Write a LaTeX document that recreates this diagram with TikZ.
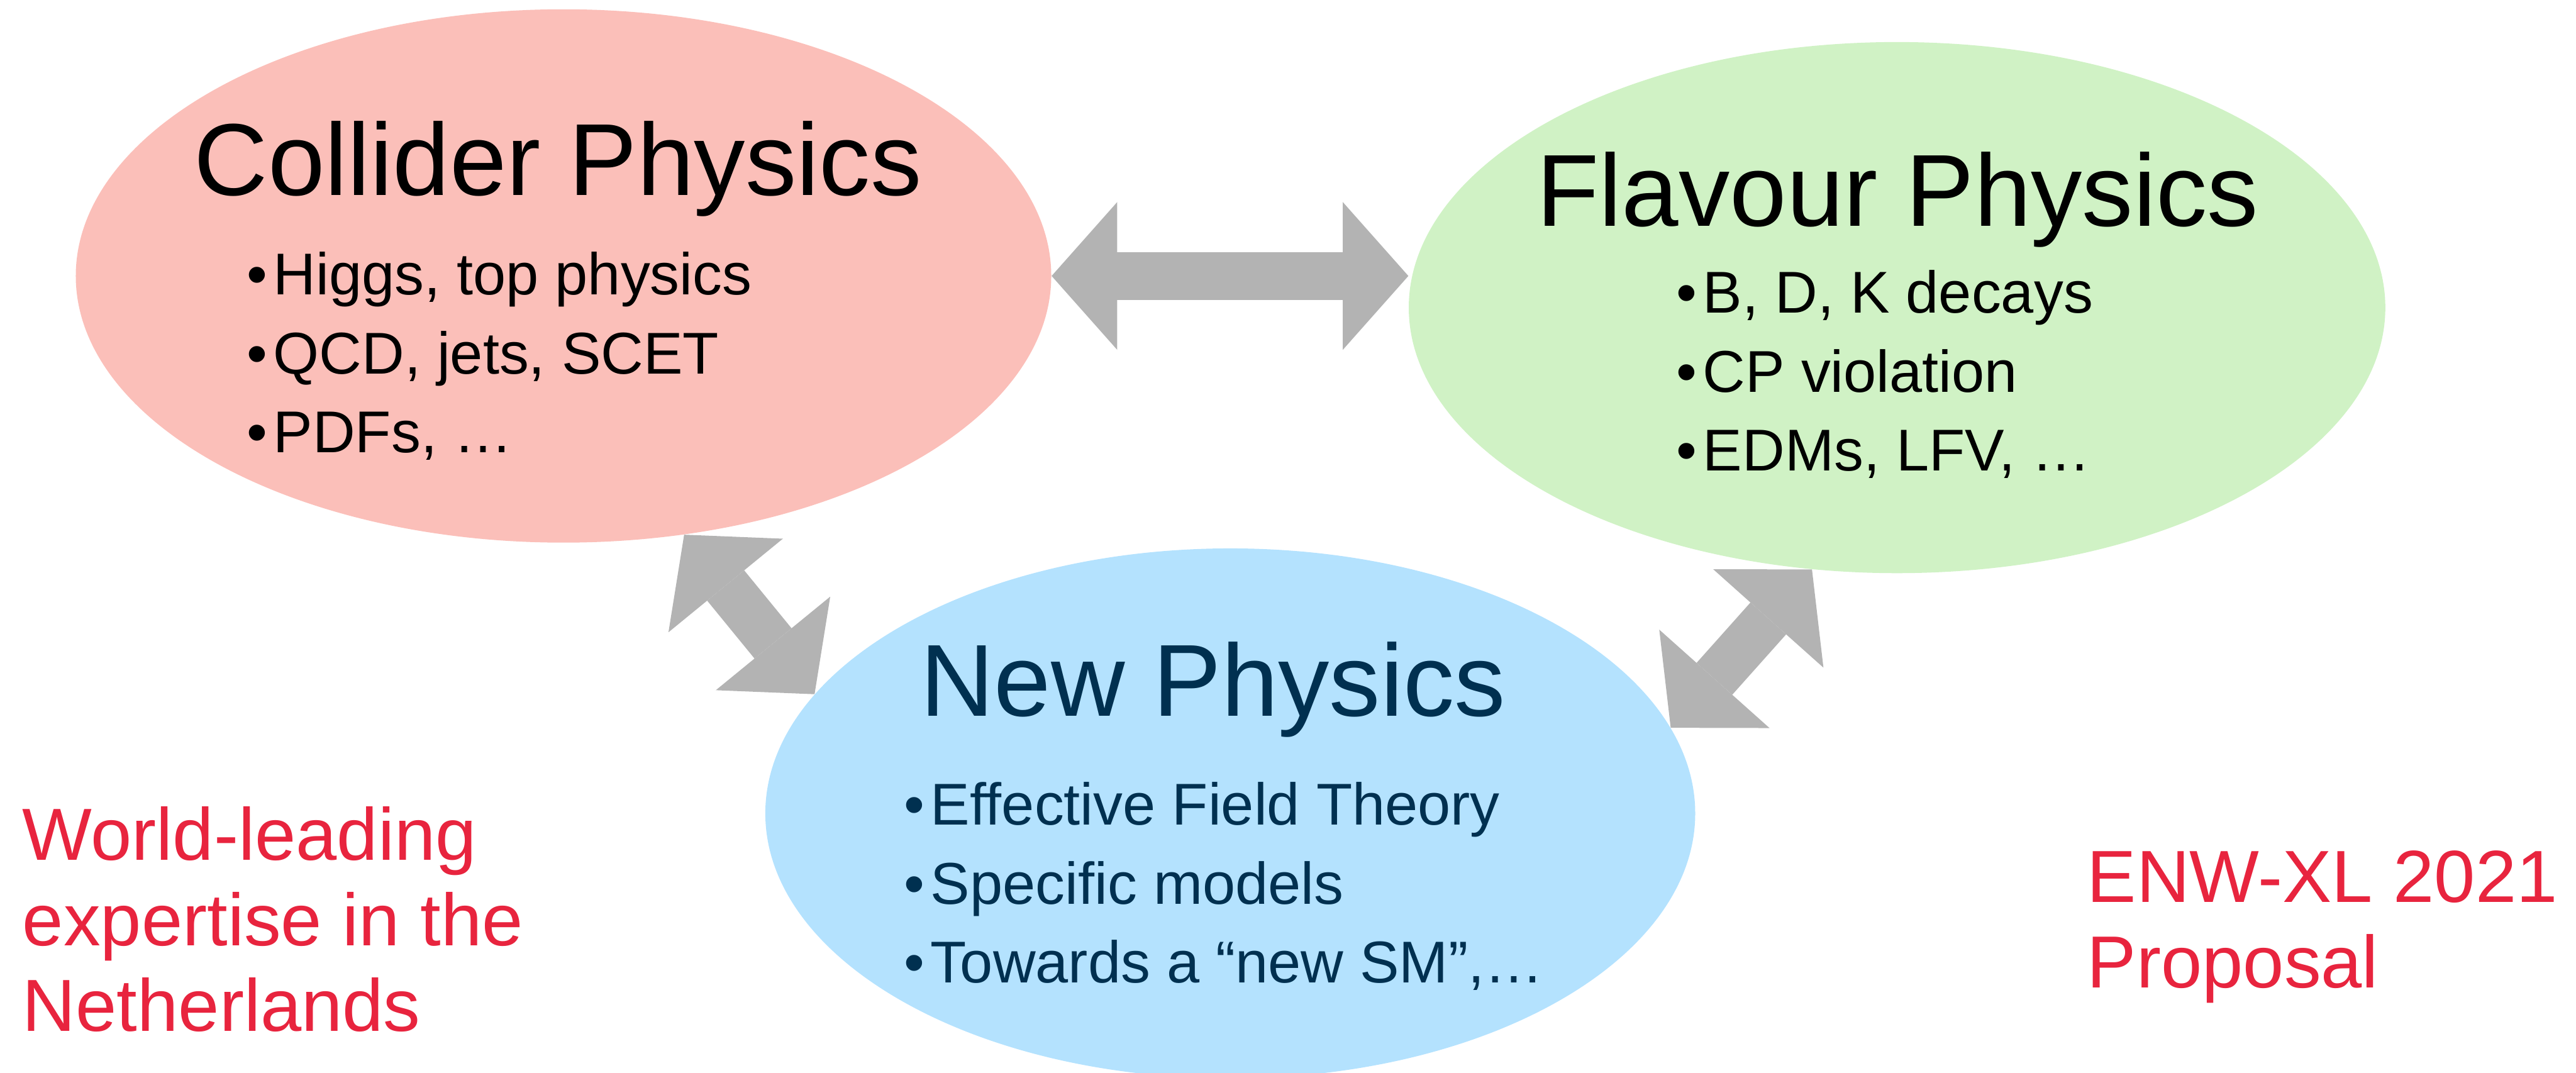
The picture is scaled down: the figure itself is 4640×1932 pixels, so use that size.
\documentclass[tikz,border=0pt]{standalone}
\usepackage{fontspec}
\setmainfont{Liberation Sans}
\usetikzlibrary{shapes.geometric, arrows.meta}

\definecolor{collfill}{RGB}{251,191,185}
\definecolor{flavfill}{RGB}{208,242,197}
\definecolor{npfill}{RGB}{180,226,254}
\definecolor{npnavy}{RGB}{0,48,80}
\definecolor{enwred}{RGB}{232,36,62}
\definecolor{arrgray}{RGB}{179,179,179}

\begin{document}
\begin{tikzpicture}[
  x=0.01cm, y=-0.01cm,
  blob/.style  = {ellipse, draw=none, inner sep=0pt},
  title/.style = {anchor=base, inner sep=0pt, font=\fontsize{52.4}{60}\selectfont},
  items/.style = {anchor=base west, inner sep=0pt, align=left,
                  font=\fontsize{30.2}{40.4}\selectfont},
  side/.style  = {anchor=base west, inner sep=0pt, align=left, text=enwred,
                  font=\fontsize{37.8}{43.8}\selectfont},
  fat arr/.style = {arrgray, line width=24.5pt,
    {Triangle[length=33.6pt, width=75.7pt, line width=0pt]}-{Triangle[length=33.6pt, width=75.7pt, line width=0pt]}},
]
\useasboundingbox (0,0) rectangle (4640,1932);

% the three fields
\node[blob, fill=collfill, minimum width=17.56cm, minimum height=9.6cm]  (collider) at (1015,497)  {};
\node[blob, fill=flavfill, minimum width=17.58cm, minimum height=9.56cm] (flavour)  at (3417,554)  {};
\node[blob, fill=npfill,   minimum width=16.74cm, minimum height=9.54cm] (newphys)  at (2216,1465) {};

% arrows between them
\draw[fat arr] (collider.east) -- (collider.east -| flavour.west);
\draw[fat arr] (collider.-65) -- (newphys.164);
\draw[fat arr] (newphys.11) -- (flavour.252);

% titles
\node[title]              (coll-title) at (1005,352)  {Collider Physics};
\node[title]              (flav-title) at (3418,407)  {Flavour Physics};
\node[title, text=npnavy] (np-title)   at (2185,1290) {New Physics};

% topics (base = last line)
\node[items] (coll-items) at (444,815)
  {\textbullet\kern.1em Higgs, top physics\\
   \textbullet\kern.1em QCD, jets, SCET\\
   \textbullet\kern.1em PDFs, …};
\node[items] (flav-items) at (3019,848)
  {\textbullet\kern.1em B, D, K decays\\
   \textbullet\kern.1em CP violation\\
   \textbullet\kern.1em EDMs, LFV, …};
\node[items, text=npnavy] (np-items) at (1628,1770)
  {\textbullet\kern.1em Effective Field Theory\\
   \textbullet\kern.1em Specific models\\
   \textbullet\kern.1em Towards a “new SM”,…};

% side notes
\node[side] (expertise) at (40,1857)   {World-leading\\expertise in the\\Netherlands};
\node[side] (proposal)  at (3759,1779) {ENW-XL 2021\\Proposal};

\end{tikzpicture}
\end{document}
